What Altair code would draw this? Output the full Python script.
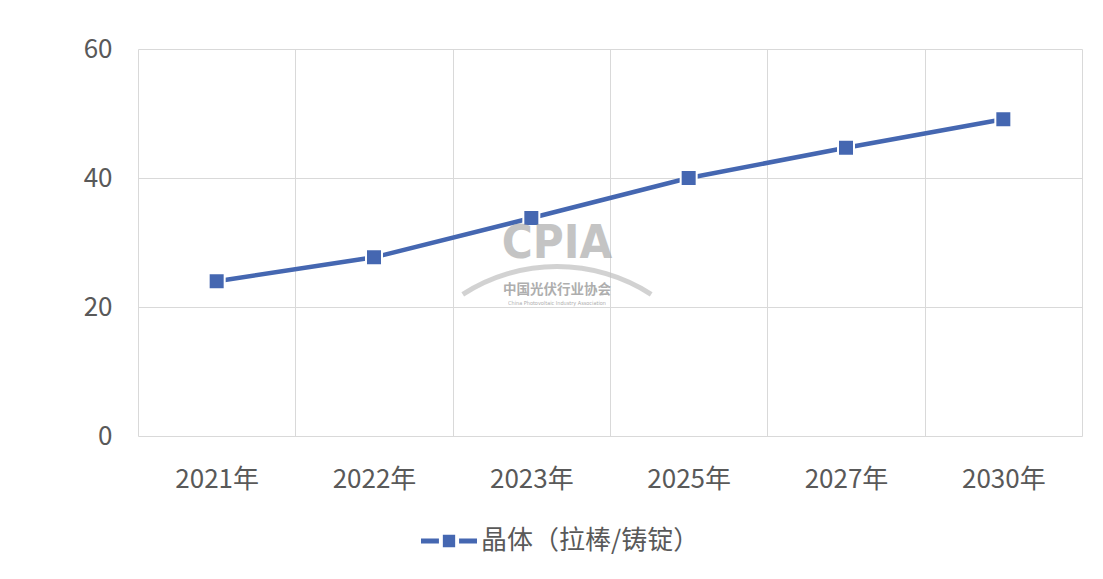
import altair as alt
import pandas as pd

years = ["2021年", "2022年", "2023年", "2025年", "2027年", "2030年"]
values = [24.0, 27.7, 33.8, 40.0, 44.7, 49.1]
series_name = "晶体（拉棒/铸锭）"

df = pd.DataFrame({"year": years, "value": values, "series": [series_name] * len(years)})

FONT = "Noto Sans CJK SC"
BLUE = "#4567B1"
GRID = "#d9d9d9"
LABEL = "#595959"

x_enc = alt.X(
    "year:N",
    sort=None,
    title=None,
    scale=alt.Scale(type="band", paddingInner=0, paddingOuter=0),
    axis=alt.Axis(
        tickBand="extent",
        grid=True,
        gridColor=GRID,
        gridWidth=1,
        ticks=False,
        domain=False,
        labelAngle=0,
        labelFont=FONT,
        labelFontSize=26,
        labelColor=LABEL,
        labelPadding=30,
        labelBaseline="top",
    ),
)
y_enc = alt.Y(
    "value:Q",
    title=None,
    scale=alt.Scale(domain=[0, 60], nice=False, zero=True),
    axis=alt.Axis(
        values=[0, 20, 40, 60],
        grid=True,
        gridColor=GRID,
        gridWidth=1,
        ticks=False,
        domain=False,
        labelFont=FONT,
        labelFontSize=26,
        labelColor=LABEL,
        labelPadding=26,
    ),
)

legend_path = (
    "M-1,-0.09 L-0.36,-0.09 L-0.36,0.09 L-1,0.09 Z "
    "M-0.22,-0.22 L0.22,-0.22 L0.22,0.22 L-0.22,0.22 Z "
    "M0.36,-0.09 L1,-0.09 L1,0.09 L0.36,0.09 Z"
)

base = alt.Chart(df)

line = base.mark_line(strokeWidth=4.5, color=BLUE).encode(x=x_enc, y=y_enc)

points = base.mark_square(size=256, filled=True, stroke="white", strokeWidth=2, opacity=1).encode(
    x=x_enc,
    y=y_enc,
    color=alt.Color(
        "series:N",
        scale=alt.Scale(range=[BLUE]),
        legend=alt.Legend(
            title=None,
            orient="none",
            legendX=283,
            legendY=464,
            symbolType=legend_path,
            symbolSize=3136,
            symbolStrokeWidth=0,
            labelFont=FONT,
            labelFontSize=26,
            labelColor=LABEL,
            labelOffset=4,
            labelLimit=0,
        ),
    ),
)

# watermark (CPIA logo)
wm_color = "#9e9e9e"
WM_FONT = "DejaVu Sans Condensed, DejaVu Sans"
wm_arc = alt.Chart(df.head(1)).mark_arc(
    theta=5.709, theta2=6.857, radius=176, radius2=171, color="#bfbfbf", opacity=0.7
).encode(x=alt.value(419), y=alt.value(391))
wm_cpia = alt.Chart(df.head(1)).mark_text(
    text="CPIA", font=WM_FONT, fontWeight="bold", fontSize=47,
    color=wm_color, opacity=0.6, align="center", baseline="alphabetic"
).encode(x=alt.value(419), y=alt.value(209))
wm_cn = alt.Chart(df.head(1)).mark_text(
    text="中国光伏行业协会", font=FONT, fontWeight="bold", fontSize=13.5,
    color="#8c8c8c", opacity=0.7, align="center", baseline="middle"
).encode(x=alt.value(419), y=alt.value(241))
wm_en = alt.Chart(df.head(1)).mark_text(
    text="China Photovoltaic Industry Association", font=WM_FONT, fontSize=5.5,
    color="#8c8c8c", opacity=0.7, align="center", baseline="middle"
).encode(x=alt.value(419), y=alt.value(254))

chart = (
    alt.layer(line, points, wm_arc, wm_cpia, wm_cn, wm_en)
    .properties(
        width=944,
        height=387,
        autosize=alt.AutoSizeParams(type="none"),
        padding={"left": 130, "top": 41, "right": 13, "bottom": 135},
        background="white",
    )
    .configure_view(stroke=None)
)

chart.save("out.html", embed_options={"renderer": "svg", "actions": False})
